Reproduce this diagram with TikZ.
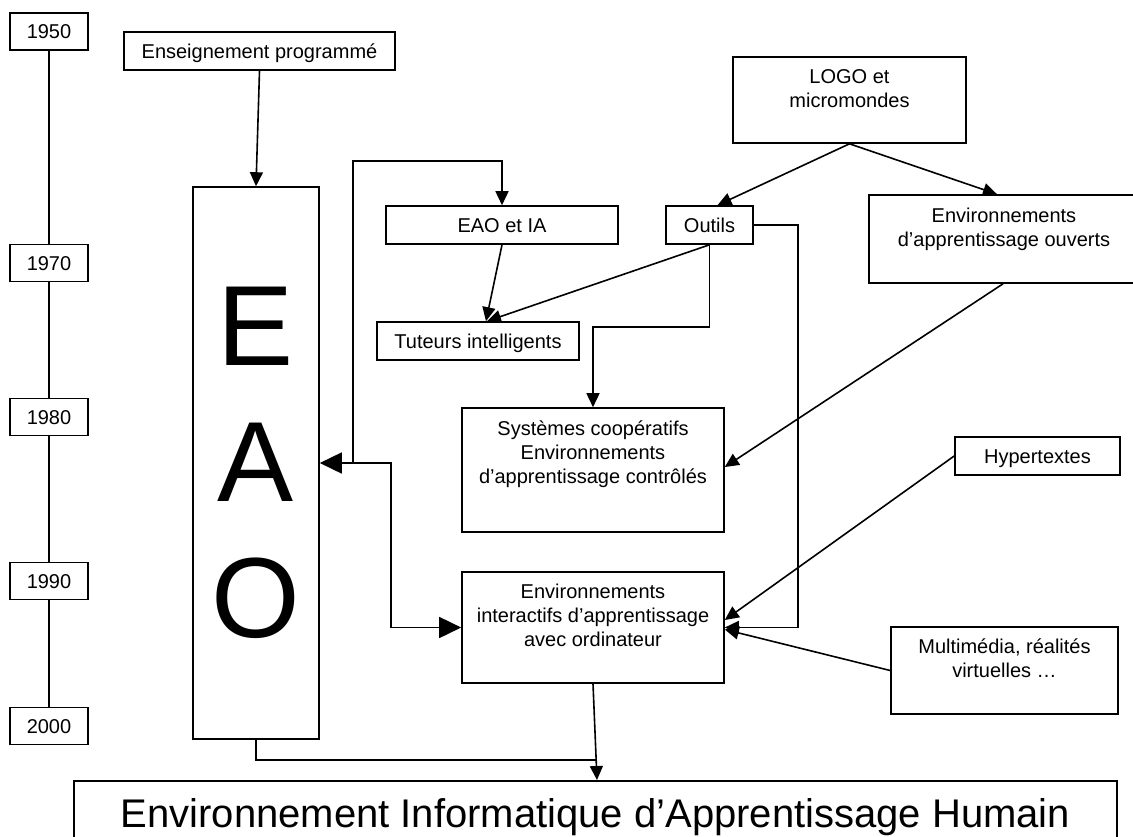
\documentclass[tikz,border=0pt]{standalone}
\usepackage{fontspec}
\setmainfont{Liberation Sans}
\usetikzlibrary{arrows.meta}
\begin{document}
\begin{tikzpicture}[x=1pt,y=-1pt]
\tikzset{
 box/.style={draw, line width=1.6pt, inner sep=0pt, font=\fontsize{20}{24}\selectfont, text height=14.3pt, text depth=0pt},
 yr/.style={box, minimum width=78pt, minimum height=37pt},
 toptext/.style={anchor=north, align=center, inner sep=0pt, font=\fontsize{20}{24}\selectfont},
 line/.style={line width=1.6pt},
 arr/.style={line, -{Triangle[length=14pt,width=13pt]}},
 bigarr/.style={line, -{Triangle[length=22pt,width=21pt]}},
}
\clip (0,0) rectangle (1133,836);
\fill[white] (0,0) rectangle (1133,836);

% timeline
\node[yr] (y50) at (49,31.5) {1950};
\node[yr] (y70) at (49,263) {1970};
\node[yr] (y80) at (49,417) {1980};
\node[yr] (y90) at (49,581) {1990};
\node[yr] (y00) at (49,726) {2000};
\draw[line] (y50) -- (y70);
\draw[line] (y70) -- (y80);
\draw[line] (y80) -- (y90);
\draw[line] (y90) -- (y00);

% boxes
\node[box, minimum width=271pt, minimum height=38pt] (ens) at (259.5,51) {Enseignement programmé};
\node[draw, line width=1.6pt, inner sep=0pt, align=center, minimum width=126pt, minimum height=552pt,
      font=\fontsize{114}{136}\selectfont] (eao) at (256,463) {E\\A\\O};
\node[box, minimum width=232pt, minimum height=38pt] (eaoia) at (502,225) {EAO et IA};
\node[box, minimum width=87pt, minimum height=38pt] (outils) at (709.5,225) {Outils};
\node[box, minimum width=202pt, minimum height=38pt] (tut) at (478,341) {Tuteurs intelligents};
\node[box, minimum width=165pt, minimum height=38pt] (hyper) at (1037.5,456) {Hypertextes};

\node[box, minimum width=233pt, minimum height=86pt] (logo) at (849.5,100) {};
\node[toptext] (logot) at ([yshift=-13.5pt]logo.north) {LOGO et\\micromondes};
\node[box, minimum width=270pt, minimum height=88pt] (envouv) at (1004,239) {};
\node[toptext] (envouvt) at ([yshift=-13.5pt]envouv.north) {Environnements\\d’apprentissage ouverts};
\node[box, minimum width=262pt, minimum height=124pt] (sys) at (593,470) {};
\node[toptext] (syst) at ([yshift=-13.5pt]sys.north) {Systèmes coopératifs\\Environnements\\d’apprentissage contrôlés};
\node[box, minimum width=262pt, minimum height=111pt] (envint) at (593,627.5) {};
\node[toptext] (envintt) at ([yshift=-12.5pt]envint.north) {Environnements\\interactifs d’apprentissage\\avec ordinateur};
\node[box, minimum width=227pt, minimum height=87pt] (multi) at (1004.5,670.5) {};
\node[toptext] (multit) at ([yshift=-12.5pt]multi.north) {Multimédia, réalités\\virtuelles …};

\node[draw, line width=1.6pt, anchor=north, minimum width=1043pt, inner xsep=0pt, inner ysep=18pt,
      font=\fontsize{40}{48}\selectfont] (eiah) at (595.5,780) {Environnement Informatique d’Apprentissage Humain};

% connectors
\coordinate (j1) at (353,463);
\coordinate (c1) at (353,161);
\coordinate (c2) at (391,463);
\coordinate (c3) at (798,225);
\coordinate (c4) at (596,760);

\draw[arr] (ens.south) -- (eao.north);
\draw[bigarr] (j1) -- (eao.east);
\draw[arr] (j1) -- (c1) -| (eaoia.north);
\draw[bigarr] (j1) -- (c2) |- (envint.west);
\draw[arr] (eaoia.south) -- ([xshift=8pt]tut.north);
\draw[arr] (outils.south) -- ([xshift=9pt]tut.north);
\draw[arr] (outils.south) -- ++(0,82) -| (sys.north);
\draw[arr] (outils.east) -- (c3) |- (envint.east);
\draw[arr] (logo.south) -- ([xshift=8pt]outils.north);
\draw[arr] (logo.south) -- ([xshift=-7pt]envouv.north);
\draw[arr] ([xshift=-1pt]envouv.south) -- ([yshift=3pt]sys.east);
\draw[arr] (hyper.west) -- ([yshift=7.5pt]envint.east);
\draw[arr] (multi.west) -- ([yshift=-2pt]envint.east);
\draw[arr] (envint.south) -- ([xshift=1.5pt]eiah.north);
\draw[line] (eao.south) |- (c4);
\end{tikzpicture}
\end{document}
